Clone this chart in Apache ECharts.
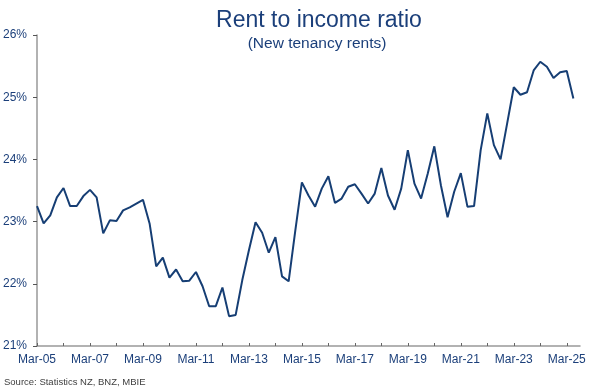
<!DOCTYPE html>
<html>
<head>
<meta charset="utf-8">
<script src="https://cdn.jsdelivr.net/npm/echarts@6/dist/echarts.min.js"></script>
<style>html,body{margin:0;padding:0;background:#fff}#c{width:600px;height:391px}</style>
</head>
<body>
<div id="c"></div>
<script>
// Quarterly categories Mar-05 .. Sep-25 (axis extends one quarter past the data)
const startYear = 2005, endYear = 2025;
const months = ['Mar', 'Jun', 'Sep', 'Dec'];
const categories = [];
for (let y = startYear; y <= endYear; y++) {
  for (const m of months) {
    categories.push(m + '-' + String(y % 100).padStart(2, '0'));
    if (y === endYear && m === 'Sep') break;
  }
}
// Rent to income ratio (%), new tenancy rents, quarterly Mar-05 .. Jun-25
const rentToIncome = [
  23.25, 22.97, 23.10, 23.39, 23.54, 23.25, 23.25, 23.41, 23.51, 23.39,
  22.81, 23.02, 23.01, 23.18, 23.23, 23.29, 23.35, 22.97, 22.28, 22.42,
  22.10, 22.23, 22.04, 22.05, 22.19, 21.96, 21.64, 21.64, 21.94, 21.48,
  21.50, 22.06, 22.54, 22.99, 22.82, 22.50, 22.75, 22.12, 22.04, 22.85,
  23.63, 23.42, 23.24, 23.53, 23.73, 23.30, 23.37, 23.56, 23.60, 23.45,
  23.29, 23.45, 23.86, 23.42, 23.19, 23.53, 24.15, 23.61, 23.37, 23.77,
  24.21, 23.58, 23.07, 23.48, 23.78, 23.24, 23.25, 24.15, 24.74, 24.23,
  24.00, 24.58, 25.16, 25.04, 25.08, 25.43, 25.57, 25.49, 25.31, 25.40,
  25.42, 24.98
];
const yTicks = { min: 21, max: 26, step: 1 };
const titleText = 'Rent to income ratio';
const subtitleText = '(New tenancy rents)';
const sourceText = 'Source: Statistics NZ, BNZ, MBIE';

const navy = '#1B3F7A';
const chart = echarts.init(document.getElementById('c'), null, { renderer: 'canvas' });
chart.setOption({
  animation: false,
  backgroundColor: '#ffffff',
  grid: { left: 37, right: 20, top: 35, bottom: 45, containLabel: false },
  graphic: [
    { type: 'text', x: 319, y: 21, style: { text: titleText, textAlign: 'center', textVerticalAlign: 'middle', font: '23px "Liberation Sans", Arial, sans-serif', fill: navy } },
    { type: 'text', x: 317, y: 43.5, style: { text: subtitleText, textAlign: 'center', textVerticalAlign: 'middle', font: '15.5px "Liberation Sans", Arial, sans-serif', fill: navy } },
    { type: 'text', x: 4, y: 382.5, style: { text: sourceText, textAlign: 'left', textVerticalAlign: 'middle', font: '9.5px "Liberation Sans", Arial, sans-serif', fill: '#404040' } }
  ],
  xAxis: {
    type: 'category',
    data: categories,
    boundaryGap: false,
    axisLine: { lineStyle: { color: '#999999', width: 1.5 } },
    axisTick: { inside: true, length: 3, interval: 3, lineStyle: { color: '#666666' } },
    axisLabel: { interval: 7, margin: 8, color: navy, fontSize: 12, fontFamily: '"Liberation Sans", Arial, sans-serif' },
    splitLine: { show: false }
  },
  yAxis: {
    type: 'value',
    min: yTicks.min, max: yTicks.max, interval: yTicks.step,
    axisLine: { show: true, lineStyle: { color: '#999999', width: 1.5 } },
    axisTick: { show: true, length: 4, lineStyle: { color: '#555555' } },
    axisLabel: { formatter: '{value}%', margin: 10, color: navy, fontSize: 12, fontFamily: '"Liberation Sans", Arial, sans-serif' },
    splitLine: { show: false }
  },
  series: [{
    type: 'line',
    data: rentToIncome,
    symbol: 'none',
    lineStyle: { color: '#163E74', width: 2 },
    z: 3
  }]
});
</script>
</body>
</html>
